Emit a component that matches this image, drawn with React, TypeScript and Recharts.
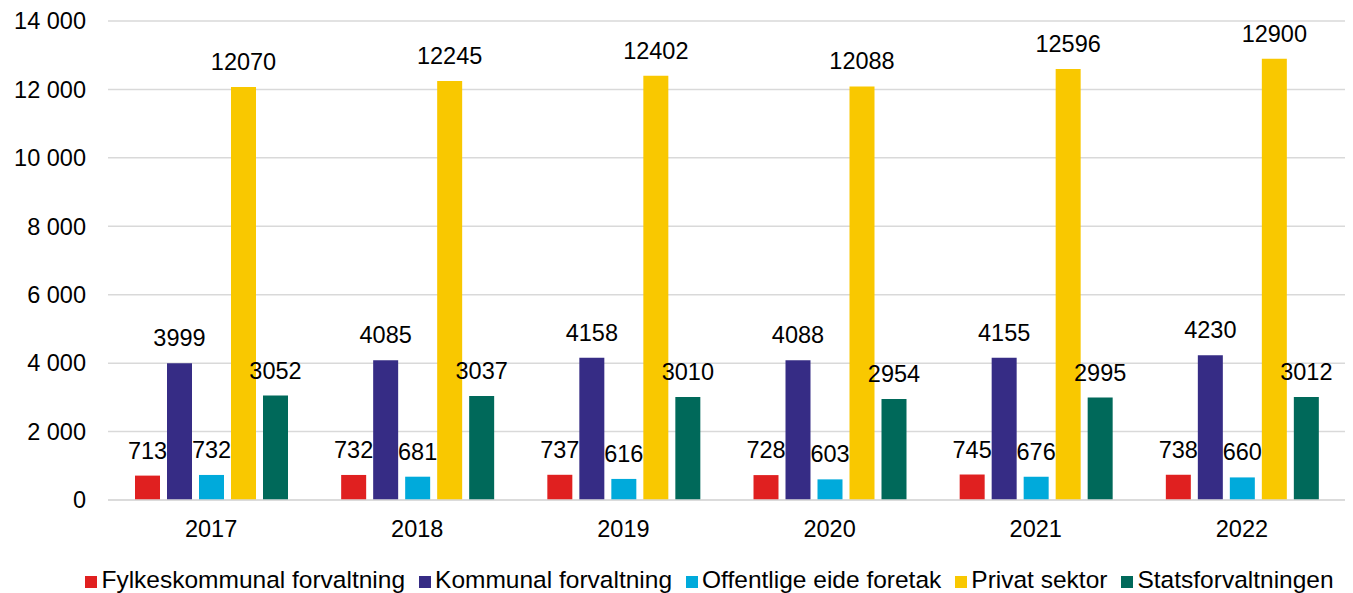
import { BarChart, Bar, XAxis, YAxis, CartesianGrid, Legend, LabelList } from "recharts"

const years = ["2017", "2018", "2019", "2020", "2021", "2022"]
const fylkeskommunal = [713, 732, 737, 728, 745, 738]
const kommunal = [3999, 4085, 4158, 4088, 4155, 4230]
const offentligeForetak = [732, 681, 616, 603, 676, 660]
const privat = [12070, 12245, 12402, 12088, 12596, 12900]
const stat = [3052, 3037, 3010, 2954, 2995, 3012]
const yTicks = [0, 2000, 4000, 6000, 8000, 10000, 12000, 14000]

const series = [
  { key: "fylke", name: "Fylkeskommunal forvaltning", color: "#E02020" },
  { key: "kommune", name: "Kommunal forvaltning", color: "#362C85" },
  { key: "foretak", name: "Offentlige eide foretak", color: "#00AADB" },
  { key: "privat", name: "Privat sektor", color: "#F9C800" },
  { key: "stat", name: "Statsforvaltningen", color: "#00695A" },
]

const data = years.map((year, i) => ({
  year,
  fylke: fylkeskommunal[i],
  kommune: kommunal[i],
  foretak: offentligeForetak[i],
  privat: privat[i],
  stat: stat[i],
}))

const fmt = (v: number) => String(v).replace(/\B(?=(\d{3})+(?!\d))/g, " ")

const font = "'Liberation Sans', Arial, sans-serif"
const fs = 23.5

export default function App() {
  return (
    <div style={{ position: "absolute", left: 0, top: 0, fontFamily: font }}>
      <BarChart
        width={1353}
        height={593}
        data={data}
        margin={{ top: 21, right: 8, left: 0, bottom: 0 }}
        barSize={25}
        barGap={7}
        barCategoryGap="13%"
      >
        <CartesianGrid vertical={false} stroke="#d9d9d9" strokeWidth={1.5} />
        <XAxis
          dataKey="year"
          tickLine={false}
          axisLine={{ stroke: "#d9d9d9", strokeWidth: 1.5 }}
          tick={{ fill: "#000", fontSize: fs, fontFamily: font }}
          tickMargin={14}
          height={67}
        />
        <YAxis
          domain={[0, 14000]}
          ticks={yTicks}
          tickFormatter={fmt}
          axisLine={false}
          tickLine={false}
          tickSize={0}
          tickMargin={22}
          width={108}
          tick={{ fill: "#000", fontSize: fs, fontFamily: font }}
        />
        <Legend
          verticalAlign="bottom"
          iconType="square"
          iconSize={12}
          wrapperStyle={{ fontSize: 24.5, fontFamily: font, lineHeight: "26px", paddingLeft: 44 }}
          formatter={(value) => <span style={{ color: "#000", paddingRight: 4 }}>{value}</span>}
        />
        {series.map((s) => (
          <Bar key={s.key} dataKey={s.key} name={s.name} fill={s.color} isAnimationActive={false}>
            <LabelList
              dataKey={s.key}
              position="top"
              offset={17}
              style={{ fill: "#000", fontSize: fs, fontFamily: font }}
            />
          </Bar>
        ))}
      </BarChart>
    </div>
  )
}
